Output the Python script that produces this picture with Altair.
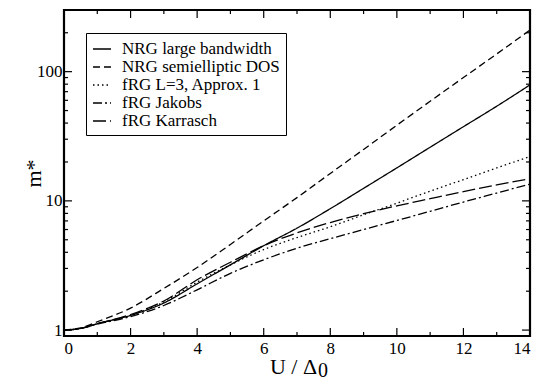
import altair as alt
import pandas as pd

# ---- data ----
U = [0, 0.5, 1, 2, 3, 4, 5, 6, 7, 8, 9, 10, 11, 12, 13, 14]
nrg_large = [1.0, 1.03, 1.12, 1.30, 1.62, 2.28, 3.2, 4.5, 6.15, 8.7, 12.5, 18.0, 26, 37.5, 54, 79]
nrg_semi = [1.0, 1.04, 1.16, 1.48, 2.1, 3.05, 4.6, 7.0, 10.6, 16.3, 25, 38.5, 59, 90, 137, 210]
frg_l3 = [1.0, 1.03, 1.12, 1.30, 1.65, 2.35, 3.2, 4.2, 5.2, 6.3, 7.8, 9.6, 11.9, 14.6, 18.0, 22]
frg_jakobs = [1.0, 1.03, 1.11, 1.27, 1.55, 2.05, 2.75, 3.5, 4.3, 5.1, 6.0, 7.05, 8.3, 9.8, 11.5, 13.5]
frg_karrasch = [1.0, 1.03, 1.12, 1.32, 1.68, 2.45, 3.35, 4.5, 5.65, 6.8, 7.95, 9.15, 10.4, 11.8, 13.3, 14.8]

series_names = ["NRG large bandwidth", "NRG semielliptic DOS", "fRG L=3, Approx. 1",
                "fRG Jakobs", "fRG Karrasch"]
series_values = [nrg_large, nrg_semi, frg_l3, frg_jakobs, frg_karrasch]
dash_styles = [[1, 0], [7, 4], [1.5, 3], [9, 3, 2, 3], [13, 4]]

x_major = [0, 2, 4, 6, 8, 10, 12, 14]
x_minor = [1, 3, 5, 7, 9, 11, 13]
y_major = [1, 10, 100]
y_minor = [2, 3, 4, 5, 6, 7, 8, 9, 20, 30, 40, 50, 60, 70, 80, 90, 200]

rows = []
for name, vals in zip(series_names, series_values):
    for u, v in zip(U, vals):
        rows.append({"U": u, "m": v, "series": name})
df = pd.DataFrame(rows)

W, H = 466, 326
FONT = "Liberation Serif"

xscale = alt.Scale(domain=[0, 14], nice=False, zero=False)
yscale = alt.Scale(type="log", domain=[0.9, 300], nice=False)

xaxis = alt.Axis(values=x_major, ticks=False, domain=False, grid=False,
                 labelFont=FONT, labelFontSize=17, labelPadding=4, labelColor="black",
                 title="U / Δ", titleFont=FONT, titleFontSize=22, titleFontWeight="normal",
                 titleColor="black", titleX=229, titleY=37, titleAlign="center",
                 titleBaseline="alphabetic")
yaxis = alt.Axis(values=y_major, format="d", ticks=False, domain=False, grid=False,
                 labelFont=FONT, labelFontSize=17, labelPadding=2, labelColor="black",
                 title="m*", titleFont=FONT, titleFontSize=22, titleFontWeight="normal",
                 titleColor="black", titleX=-24, titleY=163, titleAngle=270,
                 titleAlign="center", titleBaseline="alphabetic")

XE = alt.X("U:Q", scale=xscale, axis=xaxis)
YE = alt.Y("m:Q", scale=yscale, axis=yaxis)

lines = alt.Chart(df).mark_line(color="black", strokeWidth=1.3, interpolate="monotone").encode(
    x=XE, y=YE,
    strokeDash=alt.StrokeDash("series:N", sort=series_names,
                              scale=alt.Scale(domain=series_names, range=dash_styles),
                              legend=alt.Legend(title=None, orient="none", legendX=22, legendY=23,
                                                fillColor="white", strokeColor="black", padding=6,
                                                labelFont=FONT, labelFontSize=17, labelColor="black",
                                                symbolType="stroke", symbolSize=324,
                                                symbolStrokeWidth=1.3, symbolStrokeColor="black",
                                                rowPadding=0, labelOffset=10, cornerRadius=0)),
)

def xticks(vals, length):
    d = pd.DataFrame({"U": vals})
    b = alt.Chart(d).mark_rule(color="black", strokeWidth=1.2).encode(
        x=XE, y=alt.value(H), y2=alt.value(H - length))
    t = alt.Chart(d).mark_rule(color="black", strokeWidth=1.2).encode(
        x=XE, y=alt.value(0), y2=alt.value(length))
    return [b, t]

def yticks(vals, length):
    d = pd.DataFrame({"m": vals})
    l = alt.Chart(d).mark_rule(color="black", strokeWidth=1.2).encode(
        y=YE, x=alt.value(0), x2=alt.value(length))
    r = alt.Chart(d).mark_rule(color="black", strokeWidth=1.2).encode(
        y=YE, x=alt.value(W), x2=alt.value(W - length))
    return [l, r]

sub = alt.Chart(pd.DataFrame({"t": ["0"]})).mark_text(
    font=FONT, fontSize=20, align="left", baseline="alphabetic", color="black"
).encode(text="t:N", x=alt.value(254), y=alt.value(367))

layers = [lines] + xticks(x_major, 8) + xticks(x_minor, 4) + yticks(y_major, 8) + yticks(y_minor, 4) + [sub]

chart = alt.layer(*layers).properties(
    width=W, height=H,
    padding={"left": 56, "top": 2, "right": 4, "bottom": 45},
    autosize=alt.AutoSizeParams(type="none"),
).configure(font=FONT).configure_view(stroke="black", strokeWidth=2.2).configure_axis(
    labelFont=FONT, titleFont=FONT
).configure_legend(
    labelFont=FONT, labelFontSize=17
).configure_text(font=FONT)

chart.save("out.html", embed_options={"renderer": "svg", "actions": False})
